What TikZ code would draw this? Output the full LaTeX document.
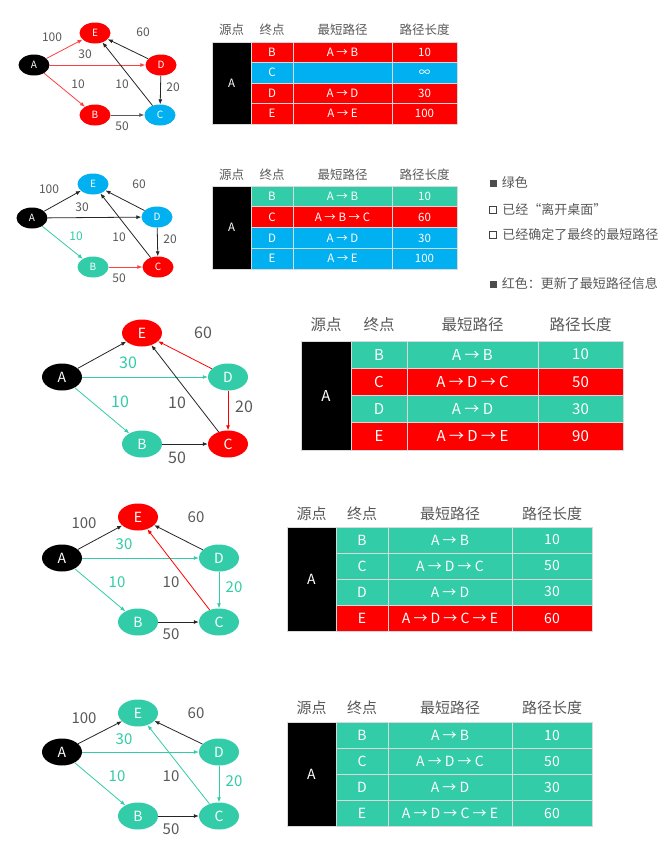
\documentclass[tikz,border=0pt]{standalone}
\usepackage{fontspec}
\setmainfont{Noto Sans CJK SC}
\usepackage{tikz}
\usetikzlibrary{shapes.geometric,arrows.meta,positioning}
\definecolor{grn}{RGB}{50,204,168}
\definecolor{blu}{RGB}{0,176,240}
\definecolor{rd}{RGB}{255,0,0}
\definecolor{txtgray}{RGB}{89,89,89}
\newcommand{\fsz}[1]{\fontsize{#1}{#1}\selectfont}
\tikzset{
  vtx/.style={ellipse, inner sep=0pt, text=white, minimum width=31pt,
              minimum height=21pt, font=\fsz{10}},
  bigvtx/.style={vtx, minimum width=40pt, minimum height=27pt, font=\fsz{14}},
  arc/.style={-{Latex[length=5pt,width=4pt]}, line width=0.8pt, black!85},
  garc/.style={arc, grn},
  rarc/.style={arc, rd},
  wt/.style={text=txtgray, inner sep=0pt, font=\fsz{12}},
  gwt/.style={wt, text=grn},
  hdr/.style={text=txtgray, inner sep=0pt, font=\fsz{12.5}},
  cell/.style={draw=white!85!black, line width=0.8pt, text=white, inner sep=0pt,
               font=\fsz{11.5}},
  src/.style={cell, fill=black},
  sqfill/.style={fill=black!70, minimum size=7pt, inner sep=0pt},
  sqopen/.style={draw=black!75, line width=1.4pt, minimum size=7pt, inner sep=0pt},
  lgd/.style={text=txtgray, inner sep=0pt, anchor=west, font=\fsz{13}}
}

\begin{document}
\begin{tikzpicture}[x=1pt,y=-1pt]
  \useasboundingbox (0,0) rectangle (670,855);
  \fill[white] (0,0) rectangle (670,855);

  % step 1
  \node[vtx, fill=black] (a1) at (34,65) {A};
  \node[vtx, fill=rd] (e1) at (95,33) {E};
  \node[vtx, fill=rd] (d1) at (161,65) {D};
  \node[vtx, fill=rd] (b1) at (95,115) {B};
  \node[vtx, fill=blu] (c1) at (160,115) {C};
  \draw[rarc, rd!75] (a1) -- (e1);
  \draw[rarc, rd!75] (a1) -- (d1);
  \draw[rarc, rd!75] (a1) -- (b1);
  \draw[arc] (d1) -- (e1);
  \draw[arc] (c1) -- (e1);
  \draw[arc] (d1) -- (c1);
  \draw[arc, black!65] (b1) -- (c1);
  \node[wt] (w1ae) at (52,37) {100};
  \node[wt] (w1ad) at (85,54) {30};
  \node[wt] (w1ab) at (78,84) {10};
  \node[wt] (w1ce) at (122,84) {10};
  \node[wt] (w1de) at (143,32) {60};
  \node[wt] (w1dc) at (173,87) {20};
  \node[wt] (w1bc) at (122,126) {50};

  \node[hdr] (h1s) at (231.5,30) {源点};
  \node[hdr] (h1t) at (272,30) {终点};
  \node[hdr] (h1p) at (342.5,30) {最短路径};
  \node[hdr] (h1l) at (424.5,30) {路径长度};
  \node[src, minimum width=39pt, minimum height=82pt] (t1a) at (231.5,83) {A};
  \foreach \n/\p/\l/\col [count=\i from 0] in
      {B/A → B/10/rd, C//∞/blu, D/A → D/30/rd, E/A → E/100/rd}{
    \node[cell, fill=\col, minimum width=42pt, minimum height=20.5pt] (t1n\i) at (272,{52.25+20.5*\i}) {\n};
    \node[cell, fill=\col, minimum width=99pt, minimum height=20.5pt] (t1p\i) at (342.5,{52.25+20.5*\i}) {\p};
    \node[cell, fill=\col, minimum width=65pt, minimum height=20.5pt] (t1l\i) at (424.5,{52.25+20.5*\i}) {\l};
  }

  % step 2
  \node[vtx, fill=black] (a2) at (32,218) {A};
  \node[vtx, fill=blu] (e2) at (93,184) {E};
  \node[vtx, fill=blu] (d2) at (157,217) {D};
  \node[vtx, fill=grn] (b2) at (93,267) {B};
  \node[vtx, fill=rd] (c2) at (158,267) {C};
  \draw[arc] (a2) -- (e2);
  \draw[arc] (a2) -- (d2);
  \draw[garc] (a2) -- (b2);
  \draw[arc] (d2) -- (e2);
  \draw[arc] (c2) -- (e2);
  \draw[arc] (d2) -- (c2);
  \draw[rarc, rd!75] (b2) -- (c2);
  \node[wt] (w2ae) at (49,189) {100};
  \node[wt] (w2ad) at (82,207) {30};
  \node[gwt] (w2ab) at (76,236) {10};
  \node[wt] (w2ce) at (119,237) {10};
  \node[wt] (w2de) at (139,184) {60};
  \node[wt] (w2dc) at (170,239) {20};
  \node[wt] (w2bc) at (119,278) {50};

  \node[hdr] (h2s) at (231.5,175) {源点};
  \node[hdr] (h2t) at (272,175) {终点};
  \node[hdr] (h2p) at (342.5,175) {最短路径};
  \node[hdr] (h2l) at (424.5,175) {路径长度};
  \node[src, minimum width=39pt, minimum height=83pt] (t2a) at (231.5,227.5) {A};
  \foreach \n/\p/\l/\col [count=\i from 0] in
      {B/A → B/10/grn, C/A → B → C/60/rd, D/A → D/30/blu, E/A → E/100/blu}{
    \node[cell, fill=\col, minimum width=42pt, minimum height=20.75pt] (t2n\i) at (272,{196.4+20.75*\i}) {\n};
    \node[cell, fill=\col, minimum width=99pt, minimum height=20.75pt] (t2p\i) at (342.5,{196.4+20.75*\i}) {\p};
    \node[cell, fill=\col, minimum width=65pt, minimum height=20.75pt] (t2l\i) at (424.5,{196.4+20.75*\i}) {\l};
  }

  \node[sqfill] (q1) at (493,183) {};
  \node[lgd, right=5pt of q1] (l1) {绿色};
  \node[sqopen] (q2) at (493,210) {};
  \node[lgd, right=5pt of q2] (l2) {已经“离开桌面”};
  \node[sqopen] (q3) at (493,235) {};
  \node[lgd, right=5pt of q3] (l3) {已经确定了最终的最短路径};
  \node[sqfill] (q4) at (493,284) {};
  \node[lgd, right=5pt of q4] (l4) {红色：更新了最短路径信息};

  % step 3
  \node[bigvtx, fill=black] (a3) at (62,377) {A};
  \node[bigvtx, fill=rd] (e3) at (142,333) {E};
  \node[bigvtx, fill=grn] (d3) at (228,377) {D};
  \node[bigvtx, fill=grn] (b3) at (142,444) {B};
  \node[bigvtx, fill=rd] (c3) at (228,444) {C};
  \draw[arc] (a3) -- (e3);
  \draw[garc] (a3) -- (d3);
  \draw[garc] (a3) -- (b3);
  \draw[rarc] (d3) -- (e3);
  \draw[arc] (c3) -- (e3);
  \draw[rarc] (d3) -- (c3);
  \draw[arc] (b3) -- (c3);
  \node[gwt, font=\fsz{16}] (w3ad) at (128,363) {30};
  \node[gwt, font=\fsz{16}] (w3ab) at (120,402) {10};
  \node[wt, font=\fsz{16}] (w3ce) at (177,403) {10};
  \node[wt, font=\fsz{16}] (w3de) at (203,333) {60};
  \node[wt, font=\fsz{16}] (w3dc) at (244,407) {20};
  \node[wt, font=\fsz{16}] (w3bc) at (177,458) {50};

  \node[hdr, font=\fsz{15.5}] (h3s) at (326,325) {源点};
  \node[hdr, font=\fsz{15.5}] (h3t) at (379,325) {终点};
  \node[hdr, font=\fsz{15.5}] (h3p) at (472.5,325) {最短路径};
  \node[hdr, font=\fsz{15.5}] (h3l) at (580.5,325) {路径长度};
  \node[src, font=\fsz{15}, minimum width=50pt, minimum height=109pt] (t3a) at (326,395.5) {A};
  \foreach \n/\p/\l/\col [count=\i from 0] in
      {B/A → B/10/grn, C/A → D → C/50/rd, D/A → D/30/grn, E/A → D → E/90/rd}{
    \node[cell, font=\fsz{15}, fill=\col, minimum width=56pt, minimum height=27.25pt] (t3n\i) at (379,{354.6+27.25*\i}) {\n};
    \node[cell, font=\fsz{15}, fill=\col, minimum width=131pt, minimum height=27.25pt] (t3p\i) at (472.5,{354.6+27.25*\i}) {\p};
    \node[cell, font=\fsz{15}, fill=\col, minimum width=85pt, minimum height=27.25pt] (t3l\i) at (580.5,{354.6+27.25*\i}) {\l};
  }

  % step 4
  \node[bigvtx, fill=black] (a4) at (62,558) {A};
  \node[bigvtx, fill=rd] (e4) at (138,517) {E};
  \node[bigvtx, fill=grn] (d4) at (219,558) {D};
  \node[bigvtx, fill=grn] (b4) at (138,622) {B};
  \node[bigvtx, fill=grn] (c4) at (219,622) {C};
  \draw[arc] (a4) -- (e4);
  \draw[garc] (a4) -- (d4);
  \draw[garc] (a4) -- (b4);
  \draw[arc] (d4) -- (e4);
  \draw[rarc] (c4) -- (e4);
  \draw[garc] (d4) -- (c4);
  \draw[arc] (b4) -- (c4);
  \node[wt, font=\fsz{15}] (w4ae) at (84,523) {100};
  \node[gwt, font=\fsz{15}] (w4ad) at (124,544) {30};
  \node[gwt, font=\fsz{15}] (w4ab) at (117,582) {10};
  \node[wt, font=\fsz{15}] (w4ce) at (171,582) {10};
  \node[wt, font=\fsz{15}] (w4de) at (196,517) {60};
  \node[gwt, font=\fsz{15}] (w4dc) at (234,587) {20};
  \node[wt, font=\fsz{15}] (w4bc) at (171,634) {50};

  \node[hdr, font=\fsz{15}] (h4s) at (311.5,514) {源点};
  \node[hdr, font=\fsz{15}] (h4t) at (362,514) {终点};
  \node[hdr, font=\fsz{15}] (h4p) at (450,514) {最短路径};
  \node[hdr, font=\fsz{15}] (h4l) at (552,514) {路径长度};
  \node[src, font=\fsz{14}, minimum width=49pt, minimum height=104pt] (t4a) at (311.5,579) {A};
  \foreach \n/\p/\l/\col [count=\i from 0] in
      {B/A → B/10/grn, C/A → D → C/50/grn, D/A → D/30/grn, E/A → D → C → E/60/rd}{
    \node[cell, font=\fsz{14}, fill=\col, minimum width=52pt, minimum height=26pt] (t4n\i) at (362,{540+26*\i}) {\n};
    \node[cell, font=\fsz{14}, fill=\col, minimum width=124pt, minimum height=26pt] (t4p\i) at (450,{540+26*\i}) {\p};
    \node[cell, font=\fsz{14}, fill=\col, minimum width=80pt, minimum height=26pt] (t4l\i) at (552,{540+26*\i}) {\l};
  }

  % step 5
  \node[bigvtx, fill=black] (a5) at (62,752) {A};
  \node[bigvtx, fill=grn] (e5) at (138,713) {E};
  \node[bigvtx, fill=grn] (d5) at (219,752) {D};
  \node[bigvtx, fill=grn] (b5) at (138,816) {B};
  \node[bigvtx, fill=grn] (c5) at (219,816) {C};
  \draw[arc] (a5) -- (e5);
  \draw[garc] (a5) -- (d5);
  \draw[garc] (a5) -- (b5);
  \draw[arc] (d5) -- (e5);
  \draw[garc] (c5) -- (e5);
  \draw[garc] (d5) -- (c5);
  \draw[arc] (b5) -- (c5);
  \node[wt, font=\fsz{15}] (w5ae) at (84,718) {100};
  \node[gwt, font=\fsz{15}] (w5ad) at (124,739) {30};
  \node[gwt, font=\fsz{15}] (w5ab) at (117,776) {10};
  \node[wt, font=\fsz{15}] (w5ce) at (171,776) {10};
  \node[wt, font=\fsz{15}] (w5de) at (196,713) {60};
  \node[gwt, font=\fsz{15}] (w5dc) at (234,781) {20};
  \node[wt, font=\fsz{15}] (w5bc) at (171,829) {50};

  \node[hdr, font=\fsz{15}] (h5s) at (311.5,708) {源点};
  \node[hdr, font=\fsz{15}] (h5t) at (362,708) {终点};
  \node[hdr, font=\fsz{15}] (h5p) at (450,708) {最短路径};
  \node[hdr, font=\fsz{15}] (h5l) at (552,708) {路径长度};
  \node[src, font=\fsz{14}, minimum width=49pt, minimum height=104pt] (t5a) at (311.5,774) {A};
  \foreach \n/\p/\l/\col [count=\i from 0] in
      {B/A → B/10/grn, C/A → D → C/50/grn, D/A → D/30/grn, E/A → D → C → E/60/grn}{
    \node[cell, font=\fsz{14}, fill=\col, minimum width=52pt, minimum height=26pt] (t5n\i) at (362,{735+26*\i}) {\n};
    \node[cell, font=\fsz{14}, fill=\col, minimum width=124pt, minimum height=26pt] (t5p\i) at (450,{735+26*\i}) {\p};
    \node[cell, font=\fsz{14}, fill=\col, minimum width=80pt, minimum height=26pt] (t5l\i) at (552,{735+26*\i}) {\l};
  }
\end{tikzpicture}
\end{document}
